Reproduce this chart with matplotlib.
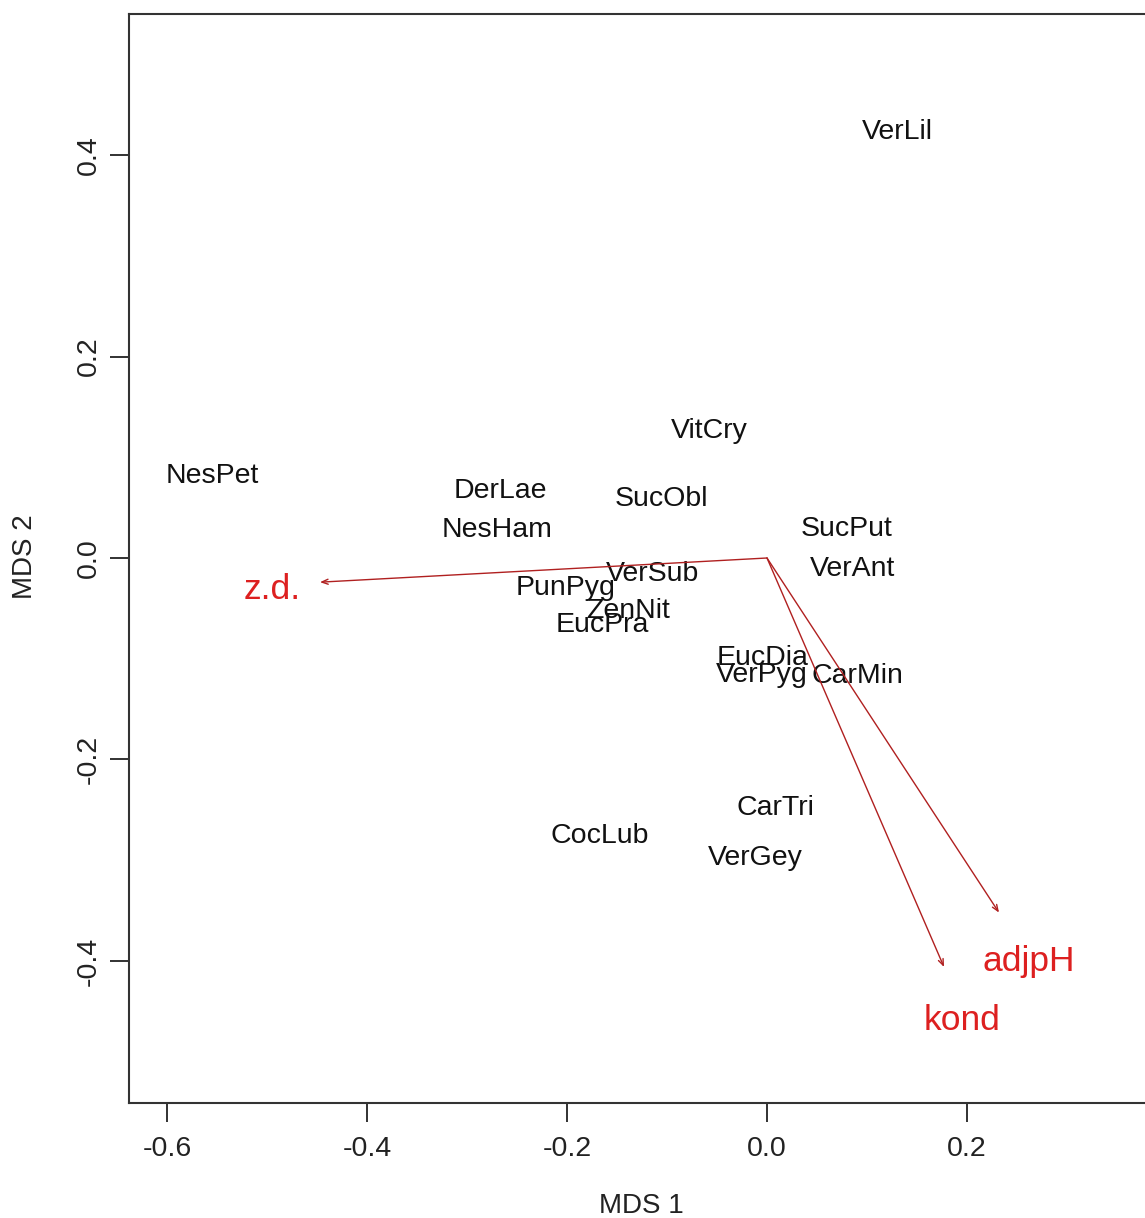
import matplotlib.pyplot as plt

plt.rcParams['font.family'] = ['Liberation Sans', 'DejaVu Sans']

# species scores (MDS 1, MDS 2)
species = ['VerLil', 'VitCry', 'NesPet', 'DerLae', 'SucObl', 'NesHam', 'SucPut',
           'VerAnt', 'VerSub', 'PunPyg', 'ZenNit', 'EucPra', 'EucDia', 'VerPyg',
           'CarMin', 'CarTri', 'CocLub', 'VerGey']
mds1 = [0.130, -0.058, -0.555, -0.267, -0.106, -0.270, 0.080,
        0.086, -0.114, -0.201, -0.139, -0.165, -0.004, -0.005,
        0.090, 0.008, -0.167, -0.012]
mds2 = [0.423, 0.126, 0.081, 0.067, 0.059, 0.028, 0.029,
        -0.011, -0.016, -0.030, -0.053, -0.067, -0.099, -0.116,
        -0.117, -0.248, -0.276, -0.298]

# envfit vectors: arrow tips and label positions
env_names = ['z.d.', 'adjpH', 'kond']
env_x = [-0.447, 0.232, 0.177]
env_y = [-0.024, -0.352, -0.406]
lab_x = [-0.495, 0.262, 0.195]
lab_y = [-0.031, -0.401, -0.459]

xticks = [-0.6, -0.4, -0.2, 0.0, 0.2]
yticks = [-0.4, -0.2, 0.0, 0.2, 0.4]

W, H = 1145, 1218
fig = plt.figure(figsize=(W / 100, H / 100), dpi=100)
ax = fig.add_axes([129 / W, 1 - 1103 / H, 1 - 129 / W, (1103 - 14) / H])

for name, x, y in zip(species, mds1, mds2):
    ax.text(x, y, name, fontsize=20.5, ha='center', va='center', color='#111111')

for name, x, y, lx, ly in zip(env_names, env_x, env_y, lab_x, lab_y):
    ax.annotate('', xy=(x, y), xytext=(0, 0),
                arrowprops=dict(arrowstyle='->,head_length=0.45,head_width=0.18',
                                color='#B02020', lw=1.0, shrinkA=0, shrinkB=0))
    ax.text(lx, ly, name, fontsize=25.5, ha='center', va='center', color='#DD2020')

ax.set_xlim(-0.638, 0.378)
ax.set_ylim(-0.541, 0.540)
ax.set_xticks(xticks)
ax.set_xticklabels([f'{t:.1f}' for t in xticks])
ax.set_yticks(yticks)
ax.set_yticklabels([f'{t:.1f}' for t in yticks], rotation=90, va='center')
ax.tick_params(direction='out', length=14, width=1.3, labelsize=20.5,
               colors='#222222')
ax.tick_params(axis='x', pad=10)
ax.tick_params(axis='y', pad=5.5)
for side in ['left', 'top', 'bottom']:
    ax.spines[side].set_linewidth(1.5)
    ax.spines[side].set_color('#333333')
ax.spines['right'].set_visible(False)

ax.set_xlabel('MDS 1', fontsize=20, color='#222222', va='center')
ax.set_ylabel('MDS 2', fontsize=20, color='#222222', va='center')
ax.xaxis.set_label_coords((641 - 129) / 1016, (1103 - 1206) / 1089)
ax.yaxis.set_label_coords((25 - 129) / 1016, (1103 - 557) / 1089)

fig.savefig('out.png', dpi=100)
